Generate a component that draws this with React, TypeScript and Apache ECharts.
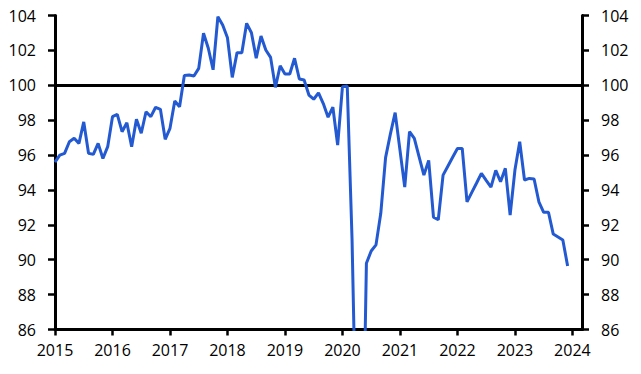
import React, { useEffect, useRef } from "react";
import * as echarts from "echarts";

const startYear = 2015;
const values2015 = [95.6, 96.0, 96.1, 96.76, 96.96, 96.67, 97.9, 96.1, 96.04, 96.67, 95.8, 96.48];
const values2016 = [98.2, 98.33, 97.34, 97.85, 96.48, 98.05, 97.25, 98.48, 98.2, 98.74, 98.62, 96.9];
const values2017 = [97.53, 99.1, 98.77, 100.56, 100.59, 100.53, 100.97, 102.98, 102.12, 100.89, 103.93, 103.46];
const values2018 = [102.72, 100.45, 101.87, 101.87, 103.55, 103.01, 101.55, 102.82, 102.02, 101.6, 99.88, 101.12];
const values2019 = [100.65, 100.65, 101.55, 100.36, 100.3, 99.44, 99.2, 99.57, 98.95, 98.17, 98.74, 96.57];
const values2020 = [99.92, 99.96, 91.2, 78, 74, 89.8, 90.5, 90.85, 92.66, 95.85, 97.2, 98.43];
const values2021 = [96.3, 94.16, 97.34, 96.96, 95.9, 94.85, 95.69, 92.44, 92.29, 94.85, 95.36, 95.87];
const values2022 = [96.38, 96.38, 93.32, 93.86, 94.4, 94.95, 94.55, 94.16, 95.12, 94.47, 95.24, 92.56];
const values2023 = [95.14, 96.76, 94.57, 94.66, 94.63, 93.32, 92.72, 92.72, 91.47, 91.3, 91.13, 89.64];

const yearTicks = [2015, 2016, 2017, 2018, 2019, 2020, 2021, 2022, 2023, 2024];
const referenceLevel = 100;

const allValues = [
  ...values2015, ...values2016, ...values2017, ...values2018, ...values2019,
  ...values2020, ...values2021, ...values2022, ...values2023,
];

export default function App() {
  const ref = useRef<HTMLDivElement>(null);
  useEffect(() => {
    if (!ref.current) return;
    const chart = echarts.init(ref.current, null, { renderer: "svg" });
    const data = allValues.map((v, i) => [startYear + i / 12, v]);
    const font = "Open Sans";
    const yAxisBase = {
      type: "value",
      min: 86,
      max: 104,
      interval: 2,
      splitLine: { show: false },
      axisLine: { show: true, onZero: false, lineStyle: { color: "#000", width: 3 } },
      axisTick: { show: true, length: 7, lineStyle: { color: "#000", width: 2.5 } },
      axisLabel: { color: "#000", fontSize: 16, fontFamily: font, margin: 19 },
    };
    chart.setOption({
      animation: false,
      grid: { left: 55, right: 59, top: 15.5, bottom: 44.5, containLabel: false },
      xAxis: {
        type: "value",
        min: 2015,
        max: 2024 + 2 / 12,
        interval: 1,
        splitLine: { show: false },
        axisLine: { show: true, onZero: false, lineStyle: { color: "#000", width: 3 } },
        axisTick: { show: true, length: 6, lineStyle: { color: "#000", width: 2.5 }, customValues: yearTicks },
        axisLabel: {
          color: "#000",
          fontSize: 16,
          fontFamily: font,
          margin: 12,
          customValues: yearTicks,
          formatter: (v: number) => String(v),
        },
      },
      yAxis: [
        { ...yAxisBase, position: "left" },
        { ...yAxisBase, position: "right" },
      ],
      series: [
        {
          type: "line",
          data,
          yAxisIndex: 0,
          showSymbol: false,
          symbol: "none",
          clip: true,
          lineStyle: { color: "#2359D1", width: 3 },
          z: 3,
          markLine: {
            silent: true,
            symbol: "none",
            label: { show: false },
            lineStyle: { color: "#000", width: 3, type: "solid" },
            data: [{ yAxis: referenceLevel }],
            z: 2,
          },
        },
      ],
    });
    return () => chart.dispose();
  }, []);
  return (
    <div
      ref={ref}
      style={{ position: "fixed", left: 0, top: 0, width: 641, height: 374, background: "#fff" }}
    />
  );
}
